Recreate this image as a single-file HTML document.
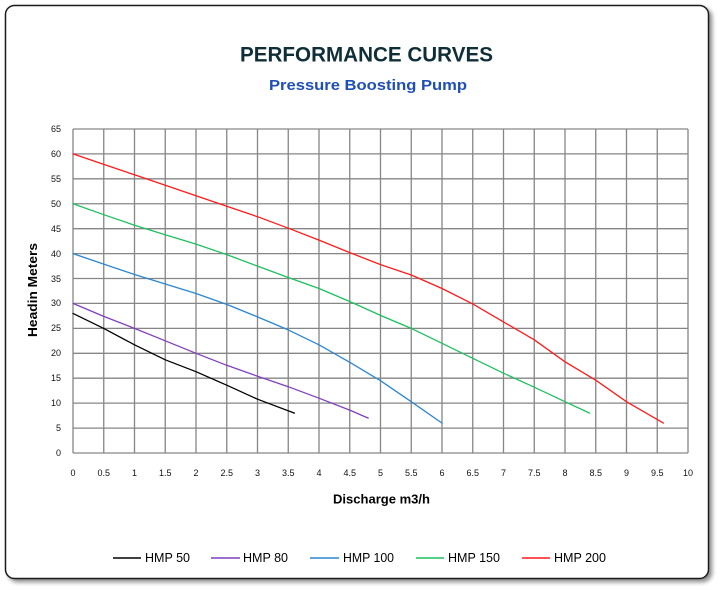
<!DOCTYPE html>
<html><head><meta charset="utf-8"><style>
html,body{margin:0;padding:0;background:#fff;}
svg{display:block;}
text{font-family:"Liberation Sans",sans-serif;}
</style></head><body>
<svg width="721" height="590" viewBox="0 0 721 590" xmlns="http://www.w3.org/2000/svg">
<defs>
<filter id="sh" x="-5%" y="-5%" width="112%" height="112%">
<feGaussianBlur in="SourceAlpha" stdDeviation="2"/>
<feOffset dx="3" dy="3" result="o"/>
<feComponentTransfer><feFuncA type="linear" slope="0.45"/></feComponentTransfer>
<feMerge><feMergeNode/><feMergeNode in="SourceGraphic"/></feMerge>
</filter>
</defs>
<rect x="0" y="0" width="721" height="590" fill="#fff"/>
<rect x="5.5" y="5.5" width="703" height="573" rx="9" ry="9" fill="#fff" stroke="#1a1a1a" stroke-width="1.5" filter="url(#sh)"/>

<text x="240" y="61.5" font-size="21.5" font-weight="bold" fill="#0f2e38" textLength="253" lengthAdjust="spacingAndGlyphs">PERFORMANCE CURVES</text>
<text x="269" y="90" font-size="15" font-weight="bold" fill="#1f4fb5" textLength="198" lengthAdjust="spacingAndGlyphs">Pressure Boosting Pump</text>

<g stroke="#868686" stroke-width="1.3" fill="none">
<path d="M73 129V453M103.75 129V453M134.5 129V453M165.25 129V453M196 129V453M226.75 129V453M257.5 129V453M288.25 129V453M319 129V453M349.75 129V453M380.5 129V453M411.25 129V453M442 129V453M472.75 129V453M503.5 129V453M534.25 129V453M565 129V453M595.75 129V453M626.5 129V453M657.25 129V453M688 129V453"/>
<path d="M73 129H688M73 153.9H688M73 178.8H688M73 203.75H688M73 228.7H688M73 253.6H688M73 278.5H688M73 303.4H688M73 328.4H688M73 353.3H688M73 378.2H688M73 403.1H688M73 428.1H688M73 453H688"/>
</g>

<g font-size="9" fill="#111" text-anchor="end">
<text x="61" y="132">65</text><text x="61" y="157">60</text><text x="61" y="182">55</text><text x="61" y="207">50</text><text x="61" y="232">45</text><text x="61" y="257">40</text><text x="61" y="282">35</text><text x="61" y="306">30</text><text x="61" y="331">25</text><text x="61" y="356">20</text><text x="61" y="381">15</text><text x="61" y="406">10</text><text x="61" y="431">5</text><text x="61" y="456">0</text>
</g>
<g font-size="9" fill="#111" text-anchor="middle">
<text x="73" y="476">0</text><text x="103.75" y="476">0.5</text><text x="134.5" y="476">1</text><text x="165.25" y="476">1.5</text><text x="196" y="476">2</text><text x="226.75" y="476">2.5</text><text x="257.5" y="476">3</text><text x="288.25" y="476">3.5</text><text x="319" y="476">4</text><text x="349.75" y="476">4.5</text><text x="380.5" y="476">5</text><text x="411.25" y="476">5.5</text><text x="442" y="476">6</text><text x="472.75" y="476">6.5</text><text x="503.5" y="476">7</text><text x="534.25" y="476">7.5</text><text x="565" y="476">8</text><text x="595.75" y="476">8.5</text><text x="626.5" y="476">9</text><text x="657.25" y="476">9.5</text><text x="688" y="476">10</text>
</g>

<text x="333" y="503.5" font-size="13" font-weight="bold" fill="#000" textLength="97" lengthAdjust="spacingAndGlyphs">Discharge m3/h</text>
<text transform="translate(37,337) rotate(-90)" x="0" y="0" font-size="13" font-weight="bold" fill="#000" textLength="94" lengthAdjust="spacingAndGlyphs">Headin Meters</text>

<g fill="none" stroke-width="1.3" stroke-linejoin="round" stroke-linecap="round">
<polyline stroke="#000000" points="73,313.4 103.75,328.4 134.5,344.8 165.25,359.8 196,371.7 226.75,385.2 257.5,399.2 294.4,413.1"/>
<polyline stroke="#7f3fbf" points="73,303.4 103.75,316.4 134.5,328.4 165.25,340.8 196,353.3 226.75,365.3 257.5,376.2 288.25,386.7 319,398.2 349.75,410.1 368.2,418.1"/>
<polyline stroke="#2b86d0" points="73,253.6 103.75,264.1 134.5,274.5 165.25,284 196,293.5 226.75,304.4 257.5,316.9 288.25,329.9 319,344.8 349.75,362.3 380.5,380.7 411.25,401.7 442,423.1"/>
<polyline stroke="#1fbf5f" points="73,203.75 103.75,214.7 134.5,225.2 165.25,234.7 196,244.1 226.75,254.6 257.5,266.1 288.25,277.5 319,288.5 349.75,301.5 380.5,315.4 411.25,328.4 442,343.3 472.75,358.3 503.5,373.2 534.25,387.2 565,401.7 589.6,413.1"/>
<polyline stroke="#ff1a1a" points="73,153.9 103.75,164.4 134.5,174.8 165.25,185.3 196,195.8 226.75,206.2 257.5,216.7 288.25,228.2 319,240.1 349.75,252.6 380.5,264.6 411.25,275 442,288.5 472.75,303.9 503.5,321.9 534.25,339.8 565,361.8 595.75,380.2 626.5,401.7 663.4,423.1"/>
</g>

<g stroke-width="1.5">
<line x1="113" y1="558" x2="141" y2="558" stroke="#000"/>
<line x1="211" y1="558" x2="240" y2="558" stroke="#7f3fbf"/>
<line x1="310" y1="558" x2="339" y2="558" stroke="#2b86d0"/>
<line x1="416" y1="558" x2="444" y2="558" stroke="#1fbf5f"/>
<line x1="522" y1="558" x2="550" y2="558" stroke="#ff1a1a"/>
</g>
<g font-size="13" fill="#000">
<text x="145" y="562" textLength="45" lengthAdjust="spacingAndGlyphs">HMP 50</text>
<text x="243" y="562" textLength="45" lengthAdjust="spacingAndGlyphs">HMP 80</text>
<text x="343" y="562" textLength="51" lengthAdjust="spacingAndGlyphs">HMP 100</text>
<text x="448" y="562" textLength="52" lengthAdjust="spacingAndGlyphs">HMP 150</text>
<text x="554" y="562" textLength="52" lengthAdjust="spacingAndGlyphs">HMP 200</text>
</g>
</svg>
</body></html>
